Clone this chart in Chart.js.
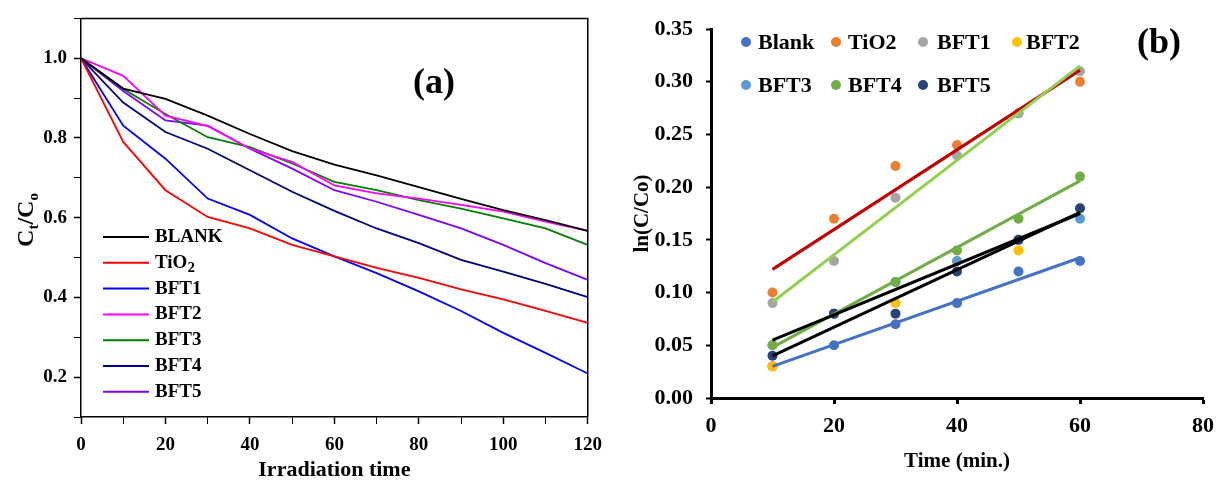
<!DOCTYPE html>
<html><head><meta charset="utf-8">
<script src="https://cdn.jsdelivr.net/npm/chart.js@4.4.0/dist/chart.umd.min.js"></script>
<style>
html,body{margin:0;padding:0;background:#fff;width:1223px;height:481px;overflow:hidden}
#ca{position:absolute;left:0;top:0}
#cb{position:absolute;left:612px;top:0}
</style></head><body>
<canvas id="ca" width="612" height="481"></canvas>
<canvas id="cb" width="611" height="481"></canvas>
<script>
// ---------- Panel (a) data ----------
const timeA = [0,10,20,30,40,50,60,70,80,90,100,110,120];
const blankA = [1.0,0.924,0.898,0.856,0.810,0.767,0.733,0.706,0.677,0.647,0.619,0.594,0.567];
const tio2A  = [1.0,0.790,0.669,0.602,0.573,0.532,0.503,0.474,0.449,0.420,0.395,0.366,0.336];
const bft1A  = [1.0,0.831,0.748,0.648,0.607,0.548,0.503,0.461,0.415,0.366,0.311,0.261,0.209];
const bft2A  = [1.0,0.956,0.856,0.830,0.773,0.740,0.681,0.661,0.648,0.632,0.615,0.590,0.567];
const bft3A  = [1.0,0.923,0.860,0.802,0.777,0.736,0.690,0.669,0.644,0.623,0.598,0.573,0.532];
const bft4A  = [1.0,0.889,0.815,0.773,0.719,0.665,0.617,0.573,0.536,0.494,0.465,0.434,0.401];
const bft5A  = [1.0,0.918,0.844,0.831,0.773,0.723,0.669,0.640,0.607,0.573,0.532,0.486,0.444];
const labelsA = ['BLANK','TiO2','BFT1','BFT2','BFT3','BFT4','BFT5'];
const colorsA = ['#000000','#ff0000','#0000ff','#ff00ff','#008000','#000080','#8000ff'];

// ---------- Panel (b) data ----------
const timeB = [10,20,30,40,50,60];
const blankB = [0.03,0.05,0.07,0.09,0.12,0.13];
const tio2B  = [0.10,0.17,0.22,0.24,0.27,0.30];
const bft1B  = [0.09,0.13,0.19,0.23,0.27,0.31];
const bft2B  = [0.03,0.08,0.09,0.13,0.14,0.18];
const bft3B  = [0.05,0.08,0.11,0.13,0.15,0.17];
const bft4B  = [0.05,0.08,0.11,0.14,0.17,0.21];
const bft5B  = [0.04,0.08,0.08,0.12,0.15,0.18];
const labelsB = ['Blank','TiO2','BFT1','BFT2','BFT3','BFT4','BFT5'];
const colorsB = ['#4472c4','#ed7d31','#a5a5a5','#ffc000','#5b9bd5','#70ad47','#264478'];
// trend lines (end values at x = 10 and 60)
const trendX = [10,60];
const trendBlank = [0.030,0.133];
const trendTiO2  = [0.122,0.311];
const trendBFT1  = [0.091,0.315];
const trendBFT4  = [0.048,0.206];
const trendBFT3  = [0.055,0.175];
const trendBFT5  = [0.040,0.176];
const trendColors = ['#4472c4','#c00000','#92d050','#70ad47','#000000','#000000'];

const serif = "'Liberation Serif','Times New Roman',serif";
const fontB = (s,lh)=>(lh ? {family:serif,size:s,weight:'bold',lineHeight:lh} : {family:serif,size:s,weight:'bold'});

// ---------- Chart (a) ----------
const seriesA = [blankA,tio2A,bft1A,bft2A,bft3A,bft4A,bft5A];
const dsA = seriesA.map((arr,i)=>({
  label: labelsA[i],
  data: timeA.map((t,j)=>({x:t,y:arr[j]})),
  borderColor: colorsA[i], backgroundColor: colorsA[i],
  borderWidth: 1.8, pointRadius: 0, tension: 0, fill:false
}));

function drawTextSub(ctx, parts, x, y){
  let cx = x;
  for (const p of parts){
    ctx.font = 'bold '+p[1]+'px '+serif;
    ctx.fillText(p[0], cx, y + p[2]);
    cx += ctx.measureText(p[0]).width;
  }
  return cx;
}

const pluginA = {
  id:'decorA',
  afterDraw(chart){
    const ctx = chart.ctx, a = chart.chartArea;
    ctx.save();
    ctx.strokeStyle='#000'; ctx.lineWidth=1.5;
    ctx.beginPath(); ctx.moveTo(a.left, a.top); ctx.lineTo(a.right, a.top); ctx.lineTo(a.right, a.bottom); ctx.stroke();
    ctx.textBaseline='middle'; ctx.fillStyle='#000';
    chart.data.datasets.forEach((d,i)=>{
      const y = 237 + i*25.8;
      ctx.strokeStyle = d.borderColor; ctx.lineWidth = 2;
      ctx.beginPath(); ctx.moveTo(103,y); ctx.lineTo(149,y); ctx.stroke();
      ctx.fillStyle='#000';
      if (d.label==='TiO2') drawTextSub(ctx, [['TiO',19,0],['2',15,5]], 155, y);
      else drawTextSub(ctx, [[d.label,19,0]], 155, y);
    });
    ctx.font='bold 36px '+serif; ctx.textAlign='center';
    ctx.fillText('(a)', 434, 84);
    ctx.translate(25, 220);
    ctx.rotate(-Math.PI/2);
    ctx.textAlign='left'; ctx.textBaseline='alphabetic';
    const parts=[['C',24,0],['t',15,5],['/C',24,0],['o',15,5]];
    let w=0; for(const p of parts){ctx.font='bold '+p[1]+'px '+serif; w+=ctx.measureText(p[0]).width;}
    drawTextSub(ctx, parts, -w/2, 8);
    ctx.restore();
  }
};

new Chart(document.getElementById('ca'), {
  type:'line',
  data:{datasets:dsA},
  options:{
    responsive:false, animation:false, devicePixelRatio:1,
    layout:{padding:{left:0,right:24,top:15,bottom:0}},
    plugins:{legend:{display:false},tooltip:{enabled:false}},
    scales:{
      x:{type:'linear',min:0,max:120,
        ticks:{stepSize:10,autoSkip:false,maxRotation:0,color:'#000',font:fontB(19),padding:10,
          callback:(v)=> (Math.round(v)%20===0 ? String(Math.round(v)) : '')},
        grid:{drawOnChartArea:false,drawTicks:true,tickLength:7,color:'#000',tickColor:'#000',
          tickWidth:(c)=> (c.tick && Math.round(c.tick.value)%20===0 ? 1.5 : 1)},
        border:{display:true,color:'#000',width:1.5},
        title:{display:true,text:'Irradiation time',color:'#000',font:fontB(22,1.0),padding:{top:0,bottom:0}},
        afterFit:(s)=>{s.height=64;}
      },
      y:{min:0.1,max:1.1,
        ticks:{stepSize:0.1,autoSkip:false,color:'#000',font:fontB(19),padding:7,
          callback:(v)=>{const k=Math.round(v*10); return k%2===0 ? (k/10).toFixed(1) : '';}},
        grid:{drawOnChartArea:false,drawTicks:true,tickLength:7,color:'#000',tickColor:'#000',
          tickWidth:(c)=> (c.tick && Math.round(c.tick.value*10)%2===0 ? 1.5 : 1)},
        border:{display:true,color:'#000',width:1.5},
        afterFit:(s)=>{s.width=81;}
      }
    }
  },
  plugins:[pluginA]
});

// ---------- Chart (b) ----------
const seriesB = [blankB,tio2B,bft1B,bft2B,bft3B,bft4B,bft5B];
const dsB = seriesB.map((arr,i)=>({
  type:'scatter', label: labelsB[i],
  data: timeB.map((t,j)=>({x:t,y:arr[j]})),
  backgroundColor: colorsB[i], borderColor: colorsB[i], borderWidth:0,
  pointRadius:5, order: 20 - i
}));
const trends = [trendBlank,trendTiO2,trendBFT1,trendBFT4,trendBFT3,trendBFT5];
trends.forEach((arr,i)=>{
  dsB.push({type:'line', label:'trend'+i,
    data: trendX.map((t,j)=>({x:t,y:arr[j]})),
    borderColor: trendColors[i], backgroundColor: trendColors[i],
    borderWidth:3, pointRadius:0, tension:0, fill:false, order: 6 - i});
});

const legendPos = [[134,146,42],[224,236,42],[311,325,42],[405,414,42],[134,146,85],[224,236,85],[311,325,85]];
const pluginB = {
  id:'decorB',
  afterDraw(chart){
    const ctx = chart.ctx;
    ctx.save();
    ctx.textBaseline='middle'; ctx.textAlign='left';
    for (let i=0;i<labelsB.length;i++){
      const p = legendPos[i];
      ctx.fillStyle = colorsB[i];
      ctx.beginPath(); ctx.arc(p[0], p[2], 5, 0, Math.PI*2); ctx.fill();
      ctx.fillStyle='#000'; ctx.font='bold 22px '+serif;
      ctx.fillText(labelsB[i], p[1], p[2]+1);
    }
    ctx.font='bold 36px '+serif; ctx.textAlign='center';
    ctx.fillText('(b)', 547, 44);
    ctx.restore();
  }
};

new Chart(document.getElementById('cb'), {
  type:'scatter',
  data:{datasets:dsB},
  options:{
    responsive:false, animation:false, devicePixelRatio:1,
    layout:{padding:{left:0,right:14,top:29,bottom:0}},
    plugins:{legend:{display:false},tooltip:{enabled:false}},
    scales:{
      x:{type:'linear',min:0,max:80,
        ticks:{stepSize:20,autoSkip:false,maxRotation:0,color:'#000',font:fontB(22),padding:9},
        grid:{drawOnChartArea:false,drawTicks:true,tickLength:6,color:'#000',tickColor:'#000',tickWidth:3},
        border:{display:true,color:'#000',width:3},
        title:{display:true,text:'Time (min.)',color:'#000',font:fontB(21),padding:{top:0,bottom:7}},
        afterFit:(s)=>{s.height=83;}
      },
      y:{min:0,max:0.35,
        ticks:{stepSize:0.05,autoSkip:false,color:'#000',font:fontB(22),padding:13,
          callback:(v)=> v.toFixed(2)},
        grid:{drawOnChartArea:false,drawTicks:true,tickLength:5,color:'#000',tickColor:'#000',tickWidth:2},
        border:{display:true,color:'#000',width:3},
        title:{display:true,text:'ln(C/Co)',color:'#000',font:fontB(21),padding:{top:18,bottom:0}},
        afterFit:(s)=>{s.width=99;}
      }
    }
  },
  plugins:[pluginB]
});
</script>
</body></html>
